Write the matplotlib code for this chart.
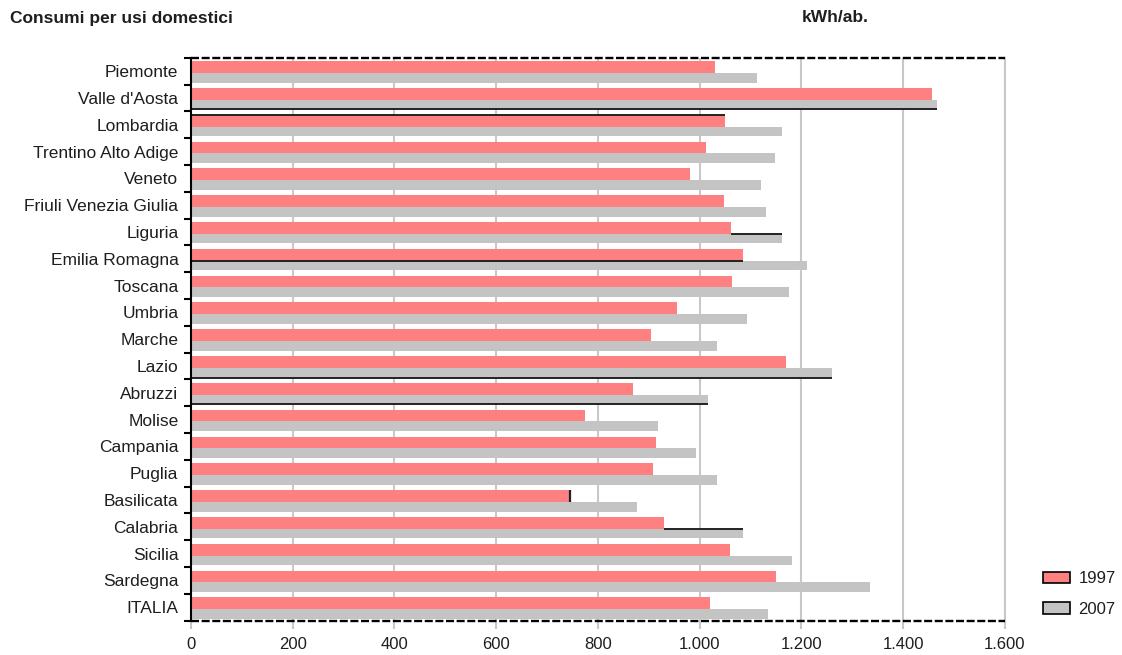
import matplotlib
matplotlib.use("Agg")
import matplotlib.pyplot as plt
from matplotlib.patches import Patch
from matplotlib.ticker import FixedLocator, FuncFormatter
import numpy as np

plt.rcParams['font.family'] = ['Liberation Sans', 'DejaVu Sans']

regioni = ["Piemonte", "Valle d'Aosta", "Lombardia", "Trentino Alto Adige", "Veneto",
           "Friuli Venezia Giulia", "Liguria", "Emilia Romagna", "Toscana", "Umbria",
           "Marche", "Lazio", "Abruzzi", "Molise", "Campania", "Puglia", "Basilicata",
           "Calabria", "Sicilia", "Sardegna", "ITALIA"]
consumi_1997 = [1031, 1456, 1049, 1012, 980, 1047, 1061, 1085, 1064, 955,
                904, 1169, 868, 775, 915, 908, 745, 929, 1059, 1149, 1020]
consumi_2007 = [1112, 1466, 1161, 1147, 1120, 1130, 1162, 1211, 1176, 1092,
                1033, 1260, 1016, 918, 992, 1033, 876, 1086, 1181, 1334, 1135]
anni = ["1997", "2007"]
x_ticks = [0, 200, 400, 600, 800, 1000, 1200, 1400, 1600]

# stray black rules visible in the source rendering
tracce_regione = ["Valle d'Aosta", "Lombardia", "Liguria", "Emilia Romagna",
                  "Lazio", "Abruzzi", "Calabria"]
tracce_bordo = ["fondo", "cima", "mezzo", "mezzo", "fondo", "fondo", "mezzo"]
tracce_da = [None, None, "1997", None, None, None, "1997"]
tracce_a = ["2007", "1997", "2007", "1997", "2007", "2007", "2007"]
traccia_verticale = "Basilicata"

ROSSO = "#FF8080"
GRIGIO = "#C4C4C4"
GRIGLIA = "#C8C8C8"
TESTO = "#1E1E1E"

serie = {"1997": consumi_1997, "2007": consumi_2007}
y = np.arange(len(regioni))
off_rosso, h_rosso = 0.13, 0.44
off_grigio, h_grigio = 0.57, 0.36

fig = plt.figure(figsize=(11.22, 6.55), dpi=100)
ax = fig.add_axes([0.1702, 0.0524, 0.7255, 0.8595])

ax.barh(y - 0.5 + off_rosso, consumi_1997, height=h_rosso, align='edge',
        color=ROSSO, zorder=2)
ax.barh(y - 0.5 + off_grigio, consumi_2007, height=h_grigio, align='edge',
        color=GRIGIO, zorder=2)

bordi = {"cima": off_rosso, "mezzo": off_grigio, "fondo": off_grigio + h_grigio}
for reg, bordo, da, a in zip(tracce_regione, tracce_bordo, tracce_da, tracce_a):
    i = regioni.index(reg)
    x0 = serie[da][i] if da else 0
    x1 = serie[a][i]
    ax.hlines(i - 0.5 + bordi[bordo], x0, x1, color="#222222", lw=1.4, zorder=3)
i = regioni.index(traccia_verticale)
ax.vlines(consumi_1997[i], i - 0.5 + off_rosso, i - 0.5 + off_grigio,
          color="#222222", lw=1.6, zorder=3)

ax.set_xlim(0, 1600)
ax.set_ylim(len(regioni) - 0.5, -0.5)

ax.xaxis.set_major_locator(FixedLocator(x_ticks))
ax.xaxis.set_major_formatter(FuncFormatter(lambda v, p: f"{int(v):,}".replace(",", ".")))
ax.grid(axis='x', color=GRIGLIA, lw=1.5, zorder=0)
ax.set_axisbelow(True)
ax.tick_params(axis='x', length=6, width=1.5, color=GRIGLIA, labelsize=12,
               pad=6, labelcolor=TESTO)

ax.set_yticks(y)
ax.set_yticklabels(regioni)
ax.set_yticks(np.arange(len(regioni) + 1) - 0.5, minor=True)
ax.tick_params(axis='y', which='major', length=0, pad=9, labelsize=12.5,
               labelcolor=TESTO)
ax.tick_params(axis='y', which='minor', length=5, width=1.5, color='black')

ax.spines['left'].set_color('black')
ax.spines['left'].set_linewidth(1.5)
ax.spines['left'].set_zorder(5)
ax.spines['right'].set_color(GRIGLIA)
ax.spines['right'].set_linewidth(1.5)
ax.spines['top'].set_visible(False)
ax.spines['bottom'].set_visible(False)
# dashed top and bottom frame
for lim in ax.get_ylim():
    ax.axhline(lim, color='black', lw=1.7, linestyle=(0, (3.4, 1.1)),
               clip_on=False, zorder=4)

fig.text(10 / 1122, 1 - 18 / 655, "Consumi per usi domestici", fontsize=12.5,
         fontweight='bold', va='center', ha='left', color=TESTO)
fig.text(835 / 1122, 1 - 18 / 655, "kWh/ab.", fontsize=12.5,
         fontweight='bold', va='center', ha='center', color=TESTO)

maniglie = [Patch(facecolor=ROSSO, edgecolor='black', lw=1.2),
            Patch(facecolor=GRIGIO, edgecolor='black', lw=1.2)]
fig.legend(maniglie, anni, loc='center left', bbox_to_anchor=(1043 / 1122, 1 - 594 / 655),
           frameon=False, fontsize=12, handlelength=1.6, handleheight=0.66,
           labelspacing=0.95, handletextpad=0.52, borderpad=0, borderaxespad=0,
           labelcolor=TESTO)

fig.savefig("out.png", dpi=100)
